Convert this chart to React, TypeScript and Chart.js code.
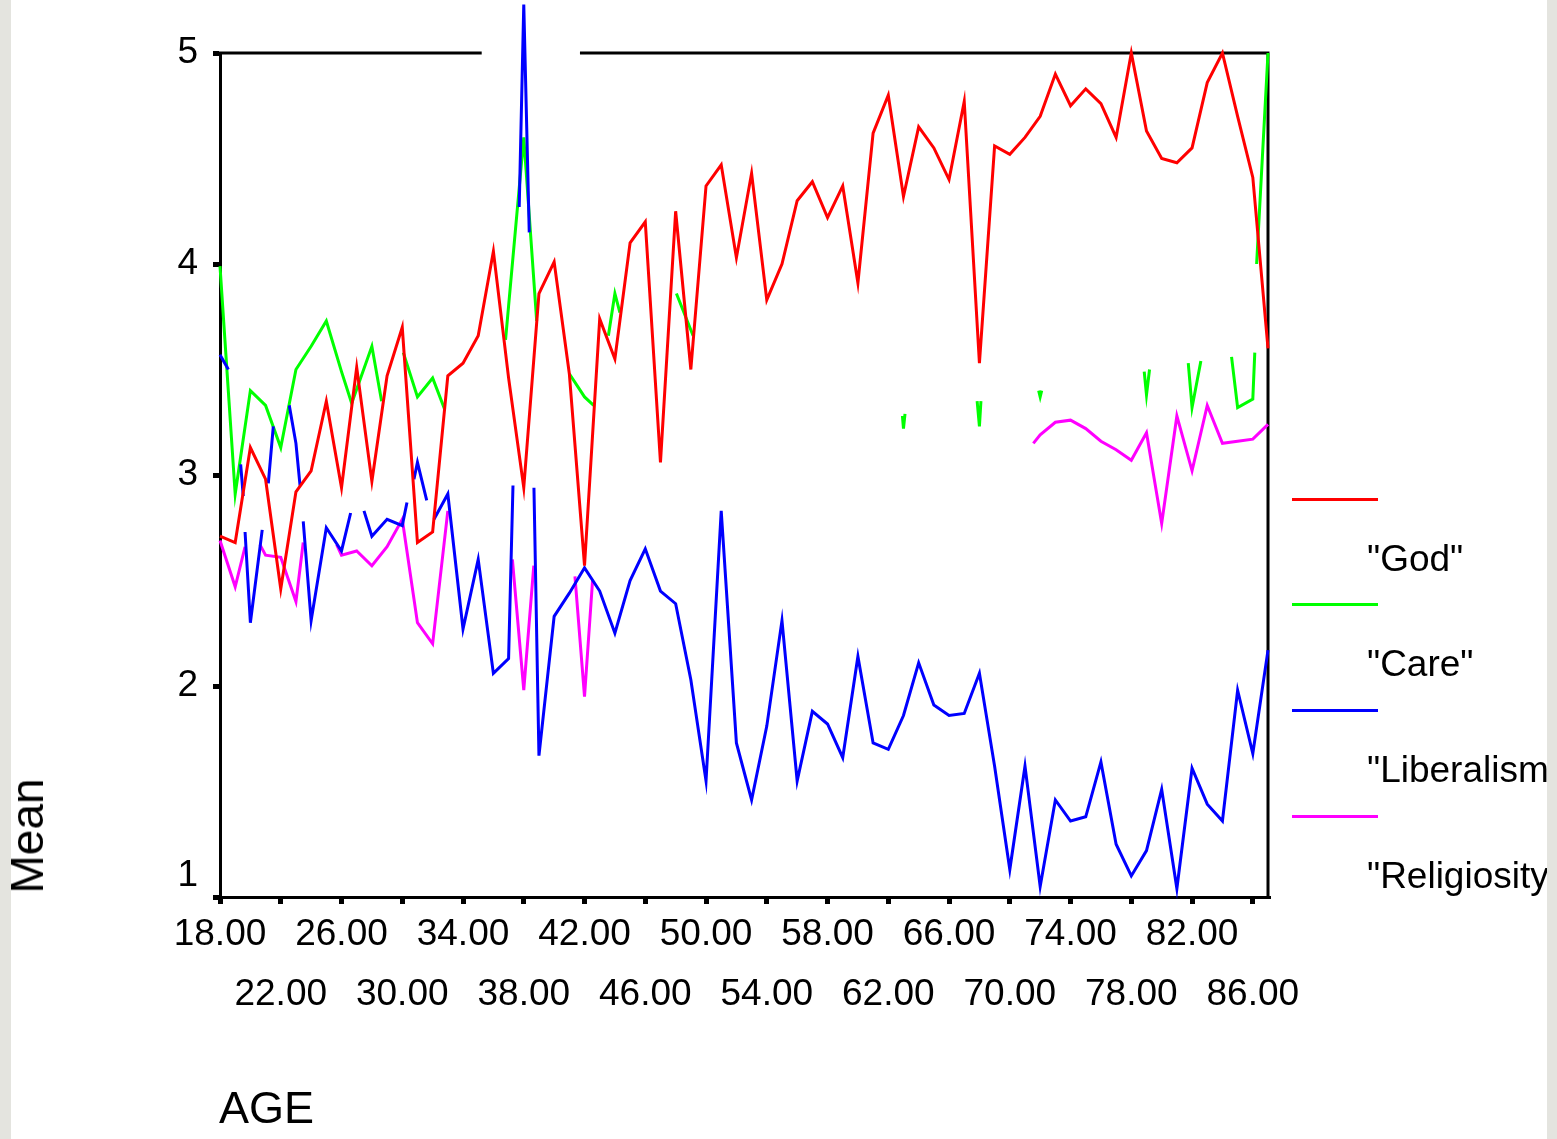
import React, { useEffect, useRef } from 'react';
import { Chart, registerables } from 'chart.js';

Chart.register(...registerables);

// ---------- data ----------
const ages = [
  18, 19, 20, 21, 22, 23, 24, 25, 26, 27, 28, 29, 30, 31, 32, 33, 34, 35, 36, 37,
  38, 39, 40, 41, 42, 43, 44, 45, 46, 47, 48, 49, 50, 51, 52, 53, 54, 55, 56, 57,
  58, 59, 60, 61, 62, 63, 64, 65, 66, 67, 68, 69, 70, 71, 72, 73, 74, 75, 76, 77,
  78, 79, 80, 81, 82, 83, 84, 85, 86, 87,
];

const godMean = [
  2.71, 2.68, 3.13, 2.98, 2.46, 2.92, 3.02, 3.35, 2.94, 3.51,
  2.97, 3.47, 3.70, 2.68, 2.73, 3.47, 3.53, 3.66, 4.06, 3.46,
  2.94, 3.86, 4.01, 3.48, 2.57, 3.74, 3.55, 4.10, 4.20, 3.06,
  4.25, 3.50, 4.37, 4.47, 4.03, 4.43, 3.83, 4.00, 4.30, 4.39,
  4.22, 4.37, 3.91, 4.62, 4.80, 4.32, 4.65, 4.55, 4.40, 4.77,
  3.53, 4.56, 4.52, 4.60, 4.70, 4.90, 4.75, 4.83, 4.76, 4.60,
  5.00, 4.63, 4.50, 4.48, 4.55, 4.86, 5.00, 4.70, 4.41, 3.60,
];

// visible pieces of the other lines (null = the line is broken there)
const careAge = [
  18, 19, 20, 21, 22, 23, 24, 25, 26, 26.67, 28, 28.64, null,
  30.07, 31, 32, 32.8, null,
  36.8, 37, 38, 38.85, null,
  41, 42, 42.6, null,
  43.57, 44, 44.33, null,
  48.05, 49.15, null,
  62.93, 63, 63.1, null,
  67.85, 68, 68.1, null,
  71.9, 72, 72.1, null,
  78.85, 79, 79.2, null,
  81.75, 82, 82.58, null,
  84.6, 85, 86, 86.13, null,
  86.25, 87,
];
const careMean = [
  3.99, 2.91, 3.40, 3.33, 3.13, 3.50, 3.61, 3.73, 3.49, 3.34, 3.61, 3.35, null,
  3.58, 3.37, 3.46, 3.31, null,
  3.64, 3.80, 4.60, 3.73, null,
  3.48, 3.37, 3.33, null,
  3.66, 3.86, 3.77, null,
  3.86, 3.66, null,
  3.28, 3.22, 3.29, null,
  3.35, 3.23, 3.35, null,
  3.40, 3.37, 3.40, null,
  3.49, 3.38, 3.50, null,
  3.53, 3.32, 3.54, null,
  3.56, 3.32, 3.36, 3.58, null,
  4.00, 5.00,
];

const liberalismAge = [
  18, 18.55, null,
  19.36, 19.53, null,
  19.65, 20, 20.78, null,
  21.18, 21.51, null,
  22.56, 23, 23.27, null,
  23.48, 24, 25, 26, 26.6, null,
  27.48, 28, 29, 30, 30.31, null,
  30.77, 31, 31.61, null,
  32.09, 33, 34, 35, 36, 37, 37.29, null,
  37.7, 38, 38.36, null,
  38.67, 39, 40, 41, 42, 43, 44, 45, 46, 47, 48, 49, 50, 51, 52, 53, 54, 55, 56, 57,
  58, 59, 60, 61, 62, 63, 64, 65, 66, 67, 68, 69, 70, 71, 72, 73, 74, 75, 76, 77,
  78, 79, 80, 81, 82, 83, 84, 85, 86, 87,
];
const liberalismMean = [
  3.57, 3.50, null,
  3.05, 2.90, null,
  2.73, 2.30, 2.74, null,
  2.96, 3.23, null,
  3.33, 3.15, 2.95, null,
  2.78, 2.31, 2.75, 2.64, 2.82, null,
  2.83, 2.71, 2.79, 2.76, 2.87, null,
  2.98, 3.06, 2.88, null,
  2.79, 2.91, 2.27, 2.60, 2.06, 2.13, 2.95, null,
  4.27, 5.23, 4.15, null,
  2.94, 1.67, 2.33, 2.44, 2.56, 2.45, 2.25, 2.50, 2.65, 2.45, 2.39, 2.03, 1.55, 2.83, 1.73, 1.46, 1.81, 2.31, 1.55, 1.88,
  1.82, 1.66, 2.14, 1.73, 1.70, 1.86, 2.11, 1.91, 1.86, 1.87, 2.06, 1.62, 1.13, 1.62, 1.05, 1.46, 1.36, 1.38, 1.64, 1.25,
  1.10, 1.22, 1.51, 1.04, 1.61, 1.44, 1.36, 1.98, 1.68, 2.17,
];

const religiosityAge = [
  18, 19, 19.65, null,
  20.63, 21, 22, 23, 23.48, null,
  25.68, 26, 27, 28, 29, 30, 31, 32, 33, null,
  37.25, 38, 38.66, null,
  41.37, 42, 42.53, null,
  71.55, 72, 73, 74, 75, 76, 77, 78, 79, 80, 81, 82, 83, 84, 85, 86, 87,
];
const religiosityMean = [
  2.69, 2.47, 2.66, null,
  2.67, 2.62, 2.61, 2.40, 2.68, null,
  2.67, 2.62, 2.64, 2.57, 2.66, 2.79, 2.30, 2.20, 2.83, null,
  2.60, 1.98, 2.57, null,
  2.52, 1.95, 2.50, null,
  3.15, 3.19, 3.25, 3.26, 3.22, 3.16, 3.12, 3.07, 3.20, 2.77, 3.28, 3.02, 3.33, 3.15, 3.16, 3.17, 3.24,
];

const xTickAges = [18, 22, 26, 30, 34, 38, 42, 46, 50, 54, 58, 62, 66, 70, 74, 78, 82, 86];
const yTickValues = [1, 2, 3, 4, 5];
const seriesNames = ['"God"', '"Care"', '"Liberalism"', '"Religiosity"'];
const seriesColors = ['#ff0000', '#00ff00', '#0000ff', '#ff00ff'];
const topBorderGap = [35.23, 41.7]; // where the frame's top edge is missing

const FONT = '"Liberation Sans", Arial, Helvetica, sans-serif';
const TICK_FONT_SIZE = 37;
const LOWEST_LABEL_LIFT = 21; // the lowest y label sits above its tick

function toPoints(xs: (number | null)[], ys: (number | null)[]) {
  const pts: { x: number; y: number | null }[] = [];
  let lastX = xs[0] as number;
  for (let i = 0; i < xs.length; i++) {
    const x = xs[i];
    const y = ys[i];
    if (x === null || y === null) {
      pts.push({ x: lastX, y: null });
    } else {
      pts.push({ x, y });
      lastX = x;
    }
  }
  return pts;
}

const framePlugin = {
  id: 'frameEdges',
  beforeDatasetsDraw(chart: any) {
    const { ctx, chartArea, scales } = chart;
    const { left, right, top, bottom } = chartArea;
    const g0 = scales.x.getPixelForValue(topBorderGap[0]);
    const g1 = scales.x.getPixelForValue(topBorderGap[1]);
    ctx.save();
    ctx.strokeStyle = '#000';
    ctx.lineWidth = 3;
    ctx.beginPath();
    ctx.moveTo(left - 1.5, top);
    ctx.lineTo(g0, top);
    ctx.moveTo(g1, top);
    ctx.lineTo(right + 1.5, top);
    ctx.moveTo(right, top);
    ctx.lineTo(right, bottom);
    ctx.stroke();
    ctx.restore();
  },
  afterDraw(chart: any) {
    // lowest y label, drawn lifted above its tick like the reference
    const { ctx, scales } = chart;
    const y = scales.y;
    const v = yTickValues[0];
    ctx.save();
    ctx.fillStyle = '#000';
    ctx.font = `${TICK_FONT_SIZE}px ${FONT}`;
    ctx.textAlign = 'right';
    ctx.textBaseline = 'middle';
    ctx.fillText(String(v), y.right - 7 - 15, y.getPixelForValue(v) - LOWEST_LABEL_LIFT);
    ctx.restore();
  },
};

export default function App() {
  const canvasRef = useRef<HTMLCanvasElement | null>(null);

  useEffect(() => {
    const canvas = canvasRef.current;
    if (!canvas) return;
    const mk = (label: string, color: string, pts: any[], order: number) => ({
      label,
      data: pts,
      borderColor: color,
      backgroundColor: color,
      borderWidth: 3,
      pointRadius: 0,
      pointHoverRadius: 0,
      tension: 0,
      fill: false,
      spanGaps: false,
      clip: false as any,
      order,
    });
    const tickGrid = {
      display: true,
      drawOnChartArea: false,
      drawTicks: true,
      tickLength: 7,
      tickWidth: 5,
      lineWidth: 5,
      tickColor: '#000',
      color: '#000',
    };
    const chart = new Chart(canvas, {
      type: 'line',
      data: {
        datasets: [
          mk(seriesNames[0], seriesColors[0], toPoints(ages, godMean), 0),
          mk(seriesNames[1], seriesColors[1], toPoints(careAge, careMean), 2),
          mk(seriesNames[2], seriesColors[2], toPoints(liberalismAge, liberalismMean), 1),
          mk(seriesNames[3], seriesColors[3], toPoints(religiosityAge, religiosityMean), 3),
        ],
      },
      options: {
        animation: false,
        responsive: false,
        maintainAspectRatio: false,
        devicePixelRatio: 1,
        layout: { padding: { top: 53, right: 289, bottom: 0, left: 0 } },
        plugins: {
          legend: { display: false },
          tooltip: { enabled: false },
          title: { display: false },
        },
        scales: {
          x: {
            type: 'linear',
            min: 18,
            max: 87,
            afterBuildTicks: (axis: any) => {
              axis.ticks = xTickAges.map((v) => ({ value: v }));
            },
            afterFit: (axis: any) => {
              axis.height = 242;
            },
            border: { display: true, color: '#000', width: 3 },
            grid: tickGrid,
            ticks: {
              autoSkip: false,
              maxRotation: 0,
              minRotation: 0,
              padding: 1,
              color: '#000',
              font: { family: FONT, size: TICK_FONT_SIZE, lineHeight: 60 / TICK_FONT_SIZE },
              callback: (value: any, index: number) => {
                const txt = Number(value).toFixed(2);
                return index % 2 === 0 ? txt : ['', txt];
              },
            },
          },
          y: {
            min: 1,
            max: 5,
            afterBuildTicks: (axis: any) => {
              axis.ticks = yTickValues.map((v) => ({ value: v }));
            },
            afterFit: (axis: any) => {
              axis.width = 220;
            },
            border: { display: true, color: '#000', width: 3 },
            grid: tickGrid,
            ticks: {
              padding: 15,
              color: '#000',
              font: { family: FONT, size: TICK_FONT_SIZE },
              callback: (value: any) => (value === yTickValues[0] ? '' : String(value)),
            },
          },
        },
      } as any,
      plugins: [framePlugin],
    });
    return () => chart.destroy();
  }, []);

  const legendTops = [499, 604, 710, 816];

  return (
    <div
      style={{
        position: 'absolute',
        left: 0,
        top: 0,
        width: 1557,
        height: 1139,
        overflow: 'hidden',
        background: '#ffffff',
        fontFamily: FONT,
        color: '#000',
      }}
    >
      <canvas
        ref={canvasRef}
        width={1557}
        height={1139}
        style={{ position: 'absolute', left: 0, top: 0, width: 1557, height: 1139 }}
      />
      {/* y-axis title */}
      <div
        style={{
          position: 'absolute',
          left: 27,
          top: 836,
          transform: 'translate(-50%, -50%) rotate(-90deg)',
          fontSize: 46,
          lineHeight: '46px',
          whiteSpace: 'nowrap',
        }}
      >
        Mean
      </div>
      {/* x-axis title */}
      <div
        style={{
          position: 'absolute',
          left: 219,
          top: 1085,
          fontSize: 45,
          lineHeight: '45px',
          whiteSpace: 'nowrap',
        }}
      >
        AGE
      </div>
      {/* legend */}
      {seriesNames.map((name, i) => (
        <React.Fragment key={name}>
          <div
            style={{
              position: 'absolute',
              left: 1292,
              top: legendTops[i] - 1,
              width: 86,
              height: 2.5,
              background: seriesColors[i],
            }}
          />
          <div
            style={{
              position: 'absolute',
              left: 1367,
              top: legendTops[i] + 41,
              fontSize: 37,
              lineHeight: '37px',
              whiteSpace: 'nowrap',
            }}
          >
            {name}
          </div>
        </React.Fragment>
      ))}
      {/* textured page edges */}
      <div style={{ position: 'absolute', left: 0, top: 0, width: 11, height: 1139, background: '#e4e4df' }} />
      <div style={{ position: 'absolute', left: 1547, top: 0, width: 10, height: 1139, background: '#e4e4df' }} />
    </div>
  );
}
